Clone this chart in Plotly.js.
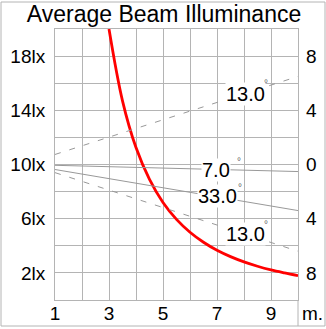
<!DOCTYPE html>
<html>
<head>
<meta charset="utf-8">
<script src="https://cdn.plot.ly/plotly-3.0.1.min.js"></script>
<style>html,body{margin:0;padding:0;background:#fff;}#chart{width:326px;height:329px;}</style>
</head>
<body>
<div id="chart"></div>
<script>
// Distance (m) and average illuminance (lx)
const distance = [3, 3.5, 4, 4.5, 5, 5.5, 6, 6.5, 7, 7.5, 8, 8.5, 9, 9.5, 10];
const illuminance = [20, 14.7, 11.25, 8.9, 7.2, 5.95, 5.0, 4.26, 3.67, 3.2, 2.81, 2.49, 2.22, 2.0, 1.8];

// Beam lines (right scale), endpoints at 1 m and 10 m
const beamX = [1, 10];
const beamUpper13 = [0.74, 6.5];
const beam7 = [-0.06, -0.52];
const beam33 = [-0.37, -3.4];
const beamLower13 = [-0.6, -6.4];

const beamLabels = ["13.0", "7.0", "33.0", "13.0"];

const xTickVals = [1, 2, 3, 4, 5, 6, 7, 8, 9, 10];
const xTickText = ["1", "", "3", "", "5", "", "7", "", "9", ""];
const yTickVals = [0, 2, 4, 6, 8, 10, 12, 14, 16, 18, 20];
const yTickText = ["", "2lx", "", "6lx", "", "10lx", "", "14lx", "", "18lx", ""];
const y2TickVals = [-8, -4, 0, 4, 8];
const y2TickText = ["8", "4", "0", "4", "8"];
const majorX = [3, 6, 9];

const FONT = "Liberation Sans, Arial, sans-serif";
const gridLight = "#b4b4b4";
const gridDark = "#555555";
const beamColor = "#999999";

const traces = [
  {x: beamX, y: beamUpper13, yaxis: "y2", mode: "lines", line: {color: beamColor, width: 1, dash: "6px,9px"}, hoverinfo: "skip"},
  {x: beamX, y: beam7, yaxis: "y2", mode: "lines", line: {color: beamColor, width: 1}, hoverinfo: "skip"},
  {x: beamX, y: beam33, yaxis: "y2", mode: "lines", line: {color: beamColor, width: 1}, hoverinfo: "skip"},
  {x: beamX, y: beamLower13, yaxis: "y2", mode: "lines", line: {color: beamColor, width: 1, dash: "6px,9px"}, hoverinfo: "skip"},
  {x: distance, y: illuminance, mode: "lines", line: {color: "#ff0000", width: 2.8, shape: "spline"}, hoverinfo: "skip"}
];

const labelPos = [[8.04, 5.17], [6.96, -0.37], [7.02, -2.29], [8.04, -5.13]];
const degPos = [[8.8, 5.95], [7.8, 0.25], [7.87, -1.68], [8.83, -4.45]];

const annotations = [];
beamLabels.forEach((t, i) => {
  annotations.push({x: labelPos[i][0], y: labelPos[i][1], xref: "x", yref: "y2", text: t, showarrow: false,
    font: {family: FONT, size: 20, color: "#000"}, bgcolor: "#fff", borderpad: 0, xanchor: "center", yanchor: "middle"});
  annotations.push({x: degPos[i][0], y: degPos[i][1], xref: "x", yref: "y2", text: "°", showarrow: false,
    font: {family: FONT, size: 10, color: "#666"}, xanchor: "center", yanchor: "middle"});
});
annotations.push({x: (312 - 55) / 243, y: (300 - 313) / 271, xref: "paper", yref: "paper", text: "m.", showarrow: false,
  font: {family: FONT, size: 19, color: "#000"}, xanchor: "center", yanchor: "middle"});

// major vertical grid lines, nudged half a pixel for crisp 1px rendering
const halfPx = 0.5 * 9 / 243;
const shapes = majorX.map(v => ({type: "line", xref: "x", yref: "paper", x0: v + halfPx, x1: v + halfPx, y0: 0, y1: 1,
  line: {color: gridDark, width: 1}, layer: "below"}));
// separator under right edge and outer border
shapes.push({type: "line", xref: "paper", yref: "paper", x0: 1, x1: 1, y0: (300 - 326) / 271, y1: 0,
  line: {color: gridLight, width: 1}});
shapes.push({type: "rect", xref: "paper", yref: "paper", x0: (1 - 55) / 243, x1: (325 - 55) / 243,
  y0: (300 - 326) / 271, y1: (300 - 2) / 271, line: {color: gridLight, width: 1}});

const layout = {
  width: 326, height: 329,
  margin: {l: 55, r: 28, t: 29, b: 29},
  paper_bgcolor: "#fff", plot_bgcolor: "#fff",
  showlegend: false,
  title: {text: "Average Beam Illuminance", font: {family: FONT, size: 23, color: "#000"},
    x: 164 / 326, xanchor: "center", y: 1 - 14 / 329, yanchor: "middle"},
  xaxis: {range: [1, 10], tickvals: xTickVals, ticktext: xTickText, showgrid: true, gridcolor: gridLight, gridwidth: 1,
    zeroline: false, showline: true, mirror: true, linecolor: gridLight, ticks: "", ticklabelstandoff: -4,
    tickfont: {family: FONT, size: 19, color: "#000"}, fixedrange: true},
  yaxis: {range: [0, 20], tickvals: yTickVals, ticktext: yTickText, showgrid: true, gridcolor: gridLight, gridwidth: 1,
    zeroline: false, showline: true, mirror: true, linecolor: gridLight, ticks: "", ticklabelstandoff: 5,
    tickfont: {family: FONT, size: 19, color: "#000"}, fixedrange: true},
  yaxis2: {range: [-10, 10], overlaying: "y", side: "right", tickvals: y2TickVals, ticktext: y2TickText,
    showgrid: false, zeroline: false, showline: false, ticks: "", ticklabelstandoff: 7,
    tickfont: {family: FONT, size: 19, color: "#000"}, fixedrange: true},
  annotations: annotations,
  shapes: shapes
};

Plotly.newPlot("chart", traces, layout, {staticPlot: true, displayModeBar: false});
</script>
</body>
</html>
